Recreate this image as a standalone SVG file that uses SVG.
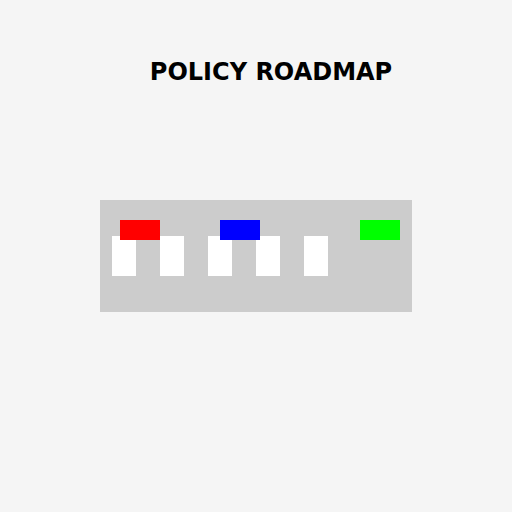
<svg xmlns="http://www.w3.org/2000/svg" width="512" height="512" viewBox="0 0 512 512">
<style>
.win{fill:#ffffff}
.title{font-family:"DejaVu Sans",sans-serif;font-weight:bold;font-size:24px;fill:#000}
</style>
<rect width="512" height="512" fill="#f5f5f5"/>
<text class="title" x="271" y="80" text-anchor="middle">POLICY ROADMAP</text>
<g id="panel">
<rect x="100" y="200" width="312" height="112" fill="#cccccc"/>
</g>
<g id="w1"><rect class="win" x="112" y="236" width="24" height="40"/></g>
<g id="w2"><rect class="win" x="160" y="236" width="24" height="40"/></g>
<g id="w3"><rect class="win" x="208" y="236" width="24" height="40"/></g>
<g id="w4"><rect class="win" x="256" y="236" width="24" height="40"/></g>
<g id="w5"><rect class="win" x="304" y="236" width="24" height="40"/></g>
<g id="red"><rect x="120" y="220" width="40" height="20" fill="#ff0000"/></g>
<g id="blue"><rect x="220" y="220" width="40" height="20" fill="#0000ff"/></g>
<g id="green"><rect x="360" y="220" width="40" height="20" fill="#00ff00"/></g>
<g id="connectors"></g>
</svg>
